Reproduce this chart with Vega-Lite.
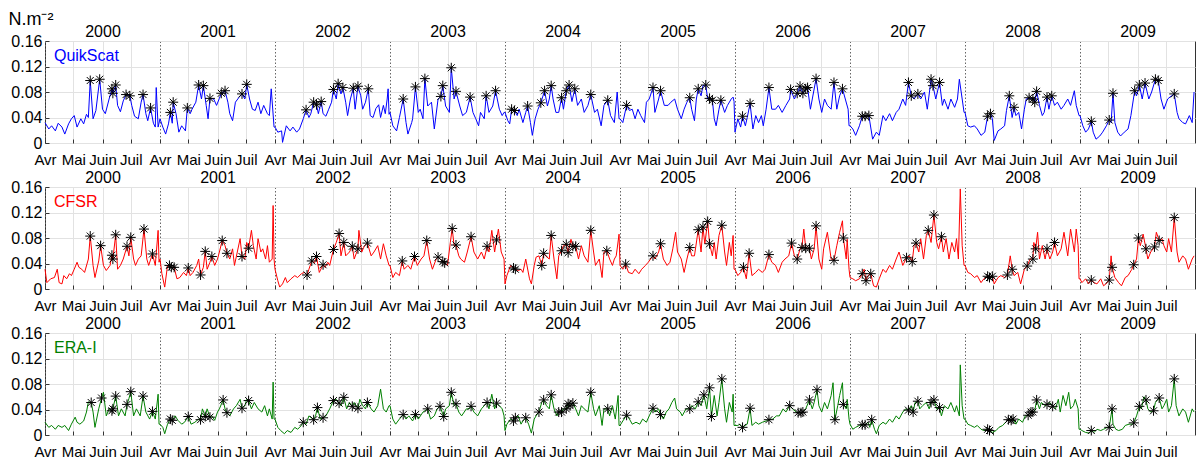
{
"$schema": "https://vega.github.io/schema/vega-lite/v6.json",
"background": "white",
"padding": {"left": 7, "top": 9, "right": 0, "bottom": 0},
"bounds": "flush",
"spacing": 44,
"datasets": {
"qs": [
{"t":0,"v":0.032},{"t":4,"v":0.022},{"t":7,"v":0.027},{"t":11,"v":0.019},{"t":14,"v":0.031},{"t":18,"v":0.025},{"t":21,"v":0.014},{"t":25,"v":0.030},{"t":28,"v":0.038},{"t":31,"v":0.043},{"t":34,"v":0.025},{"t":38,"v":0.038},{"t":41,"v":0.030},{"t":44,"v":0.045},{"t":46,"v":0.040},{"t":48,"v":0.098,"s":1},{"t":51,"v":0.038},{"t":54,"v":0.051},{"t":58,"v":0.100,"s":1},{"t":61,"v":0.053},{"t":64,"v":0.046},{"t":68,"v":0.069},{"t":71,"v":0.085,"s":1},{"t":72,"v":0.078,"s":1},{"t":75,"v":0.091,"s":1},{"t":77,"v":0.059},{"t":80,"v":0.049},{"t":83,"v":0.066},{"t":86,"v":0.076,"s":1},{"t":90,"v":0.074,"s":1},{"t":92,"v":0.059},{"t":95,"v":0.042},{"t":99,"v":0.038},{"t":102,"v":0.064},{"t":104,"v":0.076,"s":1},{"t":107,"v":0.046},{"t":109,"v":0.035},{"t":112,"v":0.055,"s":1},{"t":115,"v":0.031},{"t":117,"v":0.025},{"t":118,"v":0.087},{"t":120,"v":0.025},
{"t":122,"v":0.038},{"t":125,"v":0.025},{"t":128,"v":0.014},{"t":131,"v":0.030},{"t":133,"v":0.048,"s":1},{"t":135,"v":0.031},{"t":136,"v":0.064,"s":1},{"t":139,"v":0.046},{"t":142,"v":0.017},{"t":145,"v":0.027},{"t":149,"v":0.019},{"t":151,"v":0.055,"s":1},{"t":154,"v":0.046},{"t":156,"v":0.053},{"t":160,"v":0.064},{"t":163,"v":0.091,"s":1},{"t":166,"v":0.069},{"t":168,"v":0.090,"s":1},{"t":171,"v":0.059},{"t":173,"v":0.038},{"t":175,"v":0.070,"s":1},{"t":179,"v":0.069},{"t":182,"v":0.059},{"t":185,"v":0.070},{"t":187,"v":0.078,"s":1},{"t":191,"v":0.082,"s":1},{"t":194,"v":0.064},{"t":196,"v":0.046},{"t":199,"v":0.035},{"t":202,"v":0.064},{"t":206,"v":0.072},{"t":209,"v":0.077,"s":1},{"t":212,"v":0.069},{"t":214,"v":0.092,"s":1},{"t":217,"v":0.069},{"t":220,"v":0.053},{"t":223,"v":0.051},{"t":226,"v":0.064},{"t":229,"v":0.046},{"t":232,"v":0.059},{"t":236,"v":0.046},{"t":238,"v":0.043},{"t":240,"v":0.085},{"t":243,"v":0.025},
{"t":244,"v":0.025},{"t":247,"v":0.017},{"t":251,"v":0.019},{"t":252,"v":0.001},{"t":256,"v":0.027},{"t":260,"v":0.019},{"t":263,"v":0.025},{"t":267,"v":0.017},{"t":270,"v":0.022},{"t":274,"v":0.038},{"t":277,"v":0.052,"s":1},{"t":280,"v":0.040},{"t":282,"v":0.046},{"t":285,"v":0.064,"s":1},{"t":288,"v":0.060,"s":1},{"t":290,"v":0.046},{"t":293,"v":0.065,"s":1},{"t":295,"v":0.046},{"t":298,"v":0.042},{"t":301,"v":0.053},{"t":304,"v":0.064},{"t":306,"v":0.084,"s":1},{"t":309,"v":0.069},{"t":311,"v":0.093,"s":1},{"t":314,"v":0.077},{"t":316,"v":0.087,"s":1},{"t":319,"v":0.064},{"t":321,"v":0.043},{"t":324,"v":0.069},{"t":327,"v":0.086,"s":1},{"t":329,"v":0.053},{"t":332,"v":0.089,"s":1},{"t":335,"v":0.074},{"t":337,"v":0.053},{"t":340,"v":0.064},{"t":343,"v":0.085,"s":1},{"t":345,"v":0.043},{"t":348,"v":0.040},{"t":351,"v":0.054},{"t":354,"v":0.060},{"t":356,"v":0.040},{"t":359,"v":0.059},{"t":361,"v":0.046},{"t":363,"v":0.069},{"t":364,"v":0.085},{"t":365,"v":0.045},
{"t":366,"v":0.048},{"t":369,"v":0.027},{"t":373,"v":0.019},{"t":376,"v":0.040},{"t":380,"v":0.069,"s":1},{"t":383,"v":0.032},{"t":385,"v":0.014},{"t":389,"v":0.032},{"t":390,"v":0.038},{"t":393,"v":0.088,"s":1},{"t":396,"v":0.048},{"t":398,"v":0.053},{"t":401,"v":0.038},{"t":403,"v":0.101,"s":1},{"t":406,"v":0.058},{"t":410,"v":0.064},{"t":413,"v":0.022},{"t":417,"v":0.069},{"t":420,"v":0.073,"s":1},{"t":422,"v":0.090,"s":1},{"t":425,"v":0.058},{"t":429,"v":0.048},{"t":431,"v":0.118,"s":1},{"t":434,"v":0.069},{"t":436,"v":0.081,"s":1},{"t":440,"v":0.058},{"t":443,"v":0.043},{"t":447,"v":0.048},{"t":451,"v":0.072,"s":1},{"t":454,"v":0.048},{"t":457,"v":0.038},{"t":460,"v":0.027},{"t":462,"v":0.048},{"t":466,"v":0.038},{"t":468,"v":0.074,"s":1},{"t":471,"v":0.048},{"t":475,"v":0.058},{"t":478,"v":0.082,"s":1},{"t":482,"v":0.053},{"t":485,"v":0.043},{"t":487,"v":0.048},
{"t":488,"v":0.048},{"t":491,"v":0.035},{"t":493,"v":0.030},{"t":495,"v":0.053,"s":1},{"t":498,"v":0.051,"s":1},{"t":501,"v":0.043},{"t":503,"v":0.053},{"t":507,"v":0.032},{"t":510,"v":0.048},{"t":512,"v":0.058,"s":1},{"t":515,"v":0.032},{"t":517,"v":0.012},{"t":520,"v":0.038},{"t":523,"v":0.053},{"t":526,"v":0.063,"s":1},{"t":530,"v":0.082,"s":1},{"t":533,"v":0.058},{"t":535,"v":0.069},{"t":537,"v":0.090,"s":1},{"t":539,"v":0.069},{"t":542,"v":0.048},{"t":545,"v":0.048},{"t":548,"v":0.071,"s":1},{"t":550,"v":0.053},{"t":553,"v":0.082,"s":1},{"t":556,"v":0.091,"s":1},{"t":559,"v":0.065},{"t":562,"v":0.085,"s":1},{"t":565,"v":0.059},{"t":569,"v":0.069},{"t":572,"v":0.048},{"t":576,"v":0.059},{"t":579,"v":0.076,"s":1},{"t":583,"v":0.048},{"t":586,"v":0.053},{"t":590,"v":0.027},{"t":593,"v":0.059},{"t":597,"v":0.067,"s":1},{"t":600,"v":0.043},{"t":604,"v":0.032},{"t":607,"v":0.080},{"t":609,"v":0.038},
{"t":610,"v":0.038},{"t":613,"v":0.032},{"t":617,"v":0.059,"s":1},{"t":620,"v":0.051},{"t":623,"v":0.053},{"t":626,"v":0.038},{"t":629,"v":0.053},{"t":632,"v":0.043},{"t":636,"v":0.032},{"t":638,"v":0.064},{"t":641,"v":0.069},{"t":645,"v":0.087,"s":1},{"t":647,"v":0.048},{"t":651,"v":0.069},{"t":653,"v":0.082,"s":1},{"t":657,"v":0.059},{"t":661,"v":0.059},{"t":664,"v":0.064},{"t":668,"v":0.069},{"t":671,"v":0.053},{"t":675,"v":0.038},{"t":678,"v":0.053},{"t":681,"v":0.064},{"t":684,"v":0.071,"s":1},{"t":686,"v":0.053},{"t":689,"v":0.035},{"t":691,"v":0.069},{"t":693,"v":0.085,"s":1},{"t":696,"v":0.074},{"t":698,"v":0.090},{"t":701,"v":0.091,"s":1},{"t":703,"v":0.069},{"t":705,"v":0.070,"s":1},{"t":708,"v":0.067,"s":1},{"t":710,"v":0.038},{"t":712,"v":0.027},{"t":715,"v":0.053},{"t":717,"v":0.067,"s":1},{"t":721,"v":0.048},{"t":724,"v":0.059},{"t":728,"v":0.069},{"t":730,"v":0.072},{"t":731,"v":0.065},
{"t":732,"v":0.017},{"t":735,"v":0.038},{"t":738,"v":0.025},{"t":740,"v":0.042,"s":1},{"t":743,"v":0.027},{"t":745,"v":0.040},{"t":748,"v":0.062,"s":1},{"t":751,"v":0.022},{"t":754,"v":0.043},{"t":757,"v":0.032},{"t":760,"v":0.043},{"t":762,"v":0.027},{"t":765,"v":0.053},{"t":768,"v":0.087,"s":1},{"t":771,"v":0.053},{"t":775,"v":0.053},{"t":778,"v":0.059},{"t":782,"v":0.048},{"t":786,"v":0.059},{"t":790,"v":0.069},{"t":791,"v":0.084,"s":1},{"t":795,"v":0.069},{"t":798,"v":0.078,"s":1},{"t":801,"v":0.089,"s":1},{"t":804,"v":0.078,"s":1},{"t":807,"v":0.085,"s":1},{"t":809,"v":0.087,"s":1},{"t":812,"v":0.053},{"t":814,"v":0.069},{"t":818,"v":0.101,"s":1},{"t":821,"v":0.069},{"t":824,"v":0.048},{"t":827,"v":0.069},{"t":830,"v":0.059},{"t":834,"v":0.053},{"t":837,"v":0.095,"s":1},{"t":840,"v":0.053},{"t":843,"v":0.074},{"t":846,"v":0.085,"s":1},{"t":849,"v":0.069},{"t":852,"v":0.053},{"t":853,"v":0.027},
{"t":854,"v":0.027},{"t":857,"v":0.022},{"t":860,"v":0.012},{"t":864,"v":0.027},{"t":867,"v":0.042,"s":1},{"t":870,"v":0.042,"s":1},{"t":874,"v":0.043,"s":1},{"t":878,"v":0.006},{"t":882,"v":0.017},{"t":885,"v":0.012},{"t":889,"v":0.043},{"t":892,"v":0.035},{"t":896,"v":0.046},{"t":899,"v":0.035},{"t":903,"v":0.048},{"t":906,"v":0.053},{"t":910,"v":0.069},{"t":913,"v":0.059},{"t":916,"v":0.095,"s":1},{"t":919,"v":0.074,"s":1},{"t":922,"v":0.069},{"t":926,"v":0.077,"s":1},{"t":929,"v":0.069},{"t":933,"v":0.080},{"t":936,"v":0.053},{"t":940,"v":0.100,"s":1},{"t":942,"v":0.090,"s":1},{"t":945,"v":0.069},{"t":949,"v":0.095,"s":1},{"t":952,"v":0.059},{"t":954,"v":0.069},{"t":958,"v":0.053},{"t":961,"v":0.069},{"t":965,"v":0.056},{"t":968,"v":0.069},{"t":970,"v":0.100},{"t":973,"v":0.069},{"t":975,"v":0.048},
{"t":976,"v":0.048},{"t":979,"v":0.027},{"t":982,"v":0.025},{"t":986,"v":0.027},{"t":989,"v":0.022},{"t":993,"v":0.012},{"t":997,"v":0.017},{"t":1000,"v":0.042,"s":1},{"t":1003,"v":0.046,"s":1},{"t":1005,"v":0.038},{"t":1007,"v":0.004},{"t":1011,"v":0.019},{"t":1014,"v":0.022},{"t":1018,"v":0.027},{"t":1020,"v":0.051},{"t":1023,"v":0.074,"s":1},{"t":1026,"v":0.040},{"t":1028,"v":0.056,"s":1},{"t":1030,"v":0.043},{"t":1033,"v":0.048},{"t":1036,"v":0.022},{"t":1039,"v":0.053},{"t":1041,"v":0.069},{"t":1044,"v":0.071,"s":1},{"t":1048,"v":0.069,"s":1},{"t":1050,"v":0.064,"s":1},{"t":1052,"v":0.081,"s":1},{"t":1055,"v":0.059},{"t":1058,"v":0.043},{"t":1060,"v":0.048},{"t":1063,"v":0.072,"s":1},{"t":1065,"v":0.053},{"t":1068,"v":0.074,"s":1},{"t":1071,"v":0.059},{"t":1074,"v":0.064},{"t":1078,"v":0.053},{"t":1081,"v":0.059},{"t":1085,"v":0.069},{"t":1088,"v":0.059},{"t":1092,"v":0.082},{"t":1094,"v":0.059},{"t":1097,"v":0.043},
{"t":1098,"v":0.043},{"t":1101,"v":0.027},{"t":1104,"v":0.017},{"t":1107,"v":0.022},{"t":1110,"v":0.034,"s":1},{"t":1112,"v":0.017},{"t":1115,"v":0.006},{"t":1119,"v":0.011},{"t":1122,"v":0.017},{"t":1126,"v":0.027},{"t":1129,"v":0.036,"s":1},{"t":1131,"v":0.032},{"t":1133,"v":0.078,"s":1},{"t":1135,"v":0.032},{"t":1138,"v":0.017},{"t":1141,"v":0.011},{"t":1145,"v":0.017},{"t":1149,"v":0.022},{"t":1152,"v":0.043},{"t":1156,"v":0.082,"s":1},{"t":1158,"v":0.074},{"t":1161,"v":0.091,"s":1},{"t":1164,"v":0.069},{"t":1167,"v":0.094,"s":1},{"t":1171,"v":0.069},{"t":1174,"v":0.080},{"t":1178,"v":0.100,"s":1},{"t":1181,"v":0.098,"s":1},{"t":1184,"v":0.069},{"t":1187,"v":0.053},{"t":1191,"v":0.069},{"t":1195,"v":0.074},{"t":1198,"v":0.077,"s":1},{"t":1201,"v":0.048},{"t":1203,"v":0.038},{"t":1207,"v":0.032},{"t":1210,"v":0.030},{"t":1214,"v":0.043},{"t":1217,"v":0.032},{"t":1219,"v":0.080}
],
"cf": [
{"t":0,"v":0.031},{"t":2,"v":0.010},{"t":6,"v":0.016},{"t":10,"v":0.018},{"t":13,"v":0.031},{"t":15,"v":0.010},{"t":18,"v":0.008},{"t":20,"v":0.021},{"t":23,"v":0.016},{"t":26,"v":0.024},{"t":28,"v":0.021},{"t":31,"v":0.031},{"t":34,"v":0.042},{"t":36,"v":0.034},{"t":39,"v":0.031},{"t":42,"v":0.026},{"t":46,"v":0.047},{"t":48,"v":0.083,"s":1},{"t":51,"v":0.037},{"t":53,"v":0.018},{"t":57,"v":0.044},{"t":59,"v":0.068,"s":1},{"t":62,"v":0.037},{"t":65,"v":0.029},{"t":69,"v":0.037},{"t":71,"v":0.053,"s":1},{"t":72,"v":0.047,"s":1},{"t":75,"v":0.085,"s":1},{"t":77,"v":0.031},{"t":80,"v":0.037},{"t":83,"v":0.047},{"t":87,"v":0.067,"s":1},{"t":89,"v":0.052},{"t":91,"v":0.081,"s":1},{"t":94,"v":0.047},{"t":96,"v":0.037},{"t":99,"v":0.047},{"t":102,"v":0.052},{"t":105,"v":0.094,"s":1},{"t":108,"v":0.047},{"t":110,"v":0.037},{"t":114,"v":0.055,"s":1},{"t":117,"v":0.037},{"t":120,"v":0.092},{"t":121,"v":0.042},
{"t":122,"v":0.047},{"t":124,"v":0.024},{"t":127,"v":0.003},{"t":130,"v":0.037},{"t":132,"v":0.037,"s":1},{"t":134,"v":0.034,"s":1},{"t":137,"v":0.034,"s":1},{"t":140,"v":0.016},{"t":143,"v":0.018},{"t":147,"v":0.026},{"t":150,"v":0.021},{"t":152,"v":0.033,"s":1},{"t":154,"v":0.021},{"t":157,"v":0.026},{"t":161,"v":0.037},{"t":163,"v":0.047},{"t":165,"v":0.022,"s":1},{"t":168,"v":0.034},{"t":170,"v":0.059,"s":1},{"t":172,"v":0.031},{"t":175,"v":0.042},{"t":177,"v":0.051,"s":1},{"t":180,"v":0.037},{"t":183,"v":0.047},{"t":185,"v":0.058},{"t":188,"v":0.076,"s":1},{"t":191,"v":0.068},{"t":193,"v":0.056,"s":1},{"t":196,"v":0.047},{"t":199,"v":0.063},{"t":201,"v":0.037},{"t":204,"v":0.058},{"t":207,"v":0.079},{"t":209,"v":0.051,"s":1},{"t":212,"v":0.047},{"t":214,"v":0.073},{"t":216,"v":0.064,"s":1},{"t":219,"v":0.092},{"t":221,"v":0.068},{"t":224,"v":0.047},{"t":226,"v":0.079},{"t":229,"v":0.058},{"t":231,"v":0.063},{"t":234,"v":0.047},{"t":236,"v":0.068},{"t":238,"v":0.042},{"t":241,"v":0.047},{"t":242,"v":0.131},{"t":243,"v":0.047},
{"t":244,"v":0.031},{"t":247,"v":0.013},{"t":249,"v":0.003},{"t":252,"v":0.008},{"t":255,"v":0.018},{"t":257,"v":0.010},{"t":261,"v":0.016},{"t":265,"v":0.021},{"t":268,"v":0.018},{"t":272,"v":0.024},{"t":275,"v":0.026},{"t":278,"v":0.022,"s":1},{"t":280,"v":0.031},{"t":283,"v":0.044,"s":1},{"t":286,"v":0.041},{"t":288,"v":0.051,"s":1},{"t":291,"v":0.026},{"t":295,"v":0.038,"s":1},{"t":297,"v":0.034},{"t":300,"v":0.042},{"t":302,"v":0.037},{"t":306,"v":0.062,"s":1},{"t":309,"v":0.073},{"t":312,"v":0.087,"s":1},{"t":314,"v":0.052},{"t":317,"v":0.073,"s":1},{"t":319,"v":0.052},{"t":323,"v":0.058},{"t":326,"v":0.067,"s":1},{"t":328,"v":0.047},{"t":332,"v":0.063,"s":1},{"t":333,"v":0.092},{"t":336,"v":0.058},{"t":339,"v":0.068},{"t":342,"v":0.072,"s":1},{"t":346,"v":0.052},{"t":349,"v":0.058},{"t":353,"v":0.068},{"t":356,"v":0.047},{"t":359,"v":0.071},{"t":362,"v":0.052},{"t":365,"v":0.037},
{"t":366,"v":0.037},{"t":369,"v":0.018},{"t":372,"v":0.026},{"t":376,"v":0.021},{"t":379,"v":0.044,"s":1},{"t":381,"v":0.031},{"t":385,"v":0.037},{"t":388,"v":0.031},{"t":392,"v":0.051,"s":1},{"t":395,"v":0.037},{"t":399,"v":0.047},{"t":402,"v":0.052},{"t":405,"v":0.076,"s":1},{"t":408,"v":0.047},{"t":411,"v":0.031},{"t":415,"v":0.047},{"t":417,"v":0.050,"s":1},{"t":422,"v":0.043,"s":1},{"t":424,"v":0.041,"s":1},{"t":427,"v":0.037},{"t":430,"v":0.073},{"t":432,"v":0.095,"s":1},{"t":434,"v":0.068},{"t":436,"v":0.069,"s":1},{"t":439,"v":0.052},{"t":441,"v":0.047},{"t":445,"v":0.042},{"t":448,"v":0.058},{"t":452,"v":0.082,"s":1},{"t":455,"v":0.058},{"t":459,"v":0.047},{"t":463,"v":0.058},{"t":466,"v":0.047},{"t":469,"v":0.067,"s":1},{"t":471,"v":0.058},{"t":474,"v":0.092},{"t":477,"v":0.058},{"t":479,"v":0.077,"s":1},{"t":481,"v":0.094},{"t":484,"v":0.058},{"t":487,"v":0.047},
{"t":488,"v":0.008},{"t":490,"v":0.021},{"t":494,"v":0.037},{"t":497,"v":0.033,"s":1},{"t":499,"v":0.031,"s":1},{"t":502,"v":0.029},{"t":505,"v":0.031},{"t":507,"v":0.026},{"t":510,"v":0.047},{"t":514,"v":0.016},{"t":516,"v":0.008},{"t":519,"v":0.037},{"t":521,"v":0.050},{"t":524,"v":0.052},{"t":527,"v":0.037,"s":1},{"t":529,"v":0.056,"s":1},{"t":531,"v":0.052},{"t":535,"v":0.047},{"t":537,"v":0.084,"s":1},{"t":540,"v":0.047},{"t":543,"v":0.016},{"t":545,"v":0.052},{"t":548,"v":0.060,"s":1},{"t":550,"v":0.068},{"t":553,"v":0.070,"s":1},{"t":555,"v":0.057,"s":1},{"t":558,"v":0.078},{"t":560,"v":0.067,"s":1},{"t":563,"v":0.067,"s":1},{"t":566,"v":0.047},{"t":569,"v":0.068},{"t":572,"v":0.052},{"t":576,"v":0.042},{"t":579,"v":0.092,"s":1},{"t":582,"v":0.058},{"t":584,"v":0.037},{"t":588,"v":0.047},{"t":591,"v":0.018},{"t":593,"v":0.058},{"t":596,"v":0.060,"s":1},{"t":599,"v":0.047},{"t":602,"v":0.037},{"t":604,"v":0.047},{"t":606,"v":0.052},{"t":609,"v":0.086},
{"t":610,"v":0.037},{"t":613,"v":0.031},{"t":616,"v":0.039,"s":1},{"t":619,"v":0.026},{"t":623,"v":0.024},{"t":626,"v":0.031},{"t":630,"v":0.024},{"t":633,"v":0.031},{"t":637,"v":0.037},{"t":640,"v":0.042},{"t":645,"v":0.052,"s":1},{"t":647,"v":0.047},{"t":651,"v":0.058},{"t":653,"v":0.071,"s":1},{"t":656,"v":0.047},{"t":660,"v":0.037},{"t":663,"v":0.042},{"t":666,"v":0.063},{"t":669,"v":0.089},{"t":671,"v":0.058},{"t":675,"v":0.047},{"t":678,"v":0.026},{"t":681,"v":0.047},{"t":684,"v":0.065,"s":1},{"t":686,"v":0.052},{"t":689,"v":0.052},{"t":693,"v":0.093,"s":1},{"t":696,"v":0.058},{"t":698,"v":0.097,"s":1},{"t":700,"v":0.071},{"t":703,"v":0.106,"s":1},{"t":705,"v":0.071,"s":1},{"t":708,"v":0.052},{"t":710,"v":0.073},{"t":712,"v":0.047},{"t":715,"v":0.084},{"t":718,"v":0.100,"s":1},{"t":721,"v":0.058},{"t":723,"v":0.037},{"t":726,"v":0.073},{"t":728,"v":0.052},{"t":730,"v":0.084},{"t":731,"v":0.031},
{"t":732,"v":0.031},{"t":735,"v":0.021},{"t":738,"v":0.026},{"t":741,"v":0.034,"s":1},{"t":744,"v":0.016},{"t":747,"v":0.056,"s":1},{"t":750,"v":0.021},{"t":754,"v":0.026},{"t":757,"v":0.031},{"t":761,"v":0.026},{"t":764,"v":0.031},{"t":768,"v":0.054,"s":1},{"t":771,"v":0.042},{"t":775,"v":0.037},{"t":778,"v":0.026},{"t":782,"v":0.042},{"t":785,"v":0.047},{"t":789,"v":0.052},{"t":792,"v":0.072,"s":1},{"t":795,"v":0.052},{"t":798,"v":0.047,"s":1},{"t":801,"v":0.063},{"t":803,"v":0.065,"s":1},{"t":805,"v":0.094},{"t":807,"v":0.064,"s":1},{"t":811,"v":0.064,"s":1},{"t":813,"v":0.047},{"t":816,"v":0.063},{"t":818,"v":0.099,"s":1},{"t":821,"v":0.047},{"t":824,"v":0.031},{"t":826,"v":0.063},{"t":830,"v":0.089},{"t":834,"v":0.047},{"t":837,"v":0.045,"s":1},{"t":840,"v":0.068},{"t":843,"v":0.089},{"t":846,"v":0.107},{"t":847,"v":0.080,"s":1},{"t":850,"v":0.047},{"t":851,"v":0.078},{"t":853,"v":0.031},
{"t":854,"v":0.018},{"t":857,"v":0.016},{"t":860,"v":0.013},{"t":864,"v":0.016},{"t":867,"v":0.024,"s":1},{"t":869,"v":0.031},{"t":871,"v":0.013,"s":1},{"t":873,"v":0.021},{"t":876,"v":0.024,"s":1},{"t":879,"v":0.005},{"t":882,"v":0.003},{"t":885,"v":0.016},{"t":889,"v":0.031},{"t":892,"v":0.026},{"t":896,"v":0.037},{"t":899,"v":0.031},{"t":903,"v":0.047},{"t":906,"v":0.058},{"t":910,"v":0.037},{"t":914,"v":0.049,"s":1},{"t":917,"v":0.052},{"t":920,"v":0.043,"s":1},{"t":922,"v":0.068},{"t":924,"v":0.072,"s":1},{"t":927,"v":0.058},{"t":929,"v":0.079},{"t":932,"v":0.047},{"t":935,"v":0.084},{"t":937,"v":0.092,"s":1},{"t":940,"v":0.073},{"t":943,"v":0.116,"s":1},{"t":946,"v":0.073},{"t":948,"v":0.063},{"t":951,"v":0.082,"s":1},{"t":953,"v":0.058},{"t":956,"v":0.079},{"t":959,"v":0.047},{"t":962,"v":0.073},{"t":965,"v":0.058},{"t":967,"v":0.079},{"t":969,"v":0.047},{"t":971,"v":0.157},{"t":973,"v":0.068},{"t":975,"v":0.037},
{"t":976,"v":0.037},{"t":979,"v":0.026},{"t":982,"v":0.024},{"t":986,"v":0.018},{"t":989,"v":0.021},{"t":993,"v":0.010},{"t":996,"v":0.016},{"t":1000,"v":0.020,"s":1},{"t":1002,"v":0.018,"s":1},{"t":1005,"v":0.020,"s":1},{"t":1007,"v":0.008},{"t":1011,"v":0.018},{"t":1014,"v":0.021},{"t":1018,"v":0.018},{"t":1021,"v":0.022,"s":1},{"t":1024,"v":0.052},{"t":1026,"v":0.031,"s":1},{"t":1028,"v":0.021},{"t":1032,"v":0.026},{"t":1035,"v":0.008},{"t":1039,"v":0.031},{"t":1042,"v":0.036,"s":1},{"t":1045,"v":0.047},{"t":1048,"v":0.047,"s":1},{"t":1049,"v":0.073},{"t":1051,"v":0.063,"s":1},{"t":1053,"v":0.089},{"t":1055,"v":0.047},{"t":1058,"v":0.068},{"t":1061,"v":0.047},{"t":1063,"v":0.063,"s":1},{"t":1066,"v":0.047},{"t":1069,"v":0.058},{"t":1071,"v":0.073,"s":1},{"t":1074,"v":0.052},{"t":1078,"v":0.063},{"t":1081,"v":0.089},{"t":1085,"v":0.052},{"t":1088,"v":0.094},{"t":1092,"v":0.058},{"t":1094,"v":0.094},{"t":1096,"v":0.068},{"t":1097,"v":0.016},
{"t":1098,"v":0.016},{"t":1100,"v":0.010},{"t":1104,"v":0.016},{"t":1107,"v":0.008},{"t":1110,"v":0.014,"s":1},{"t":1113,"v":0.010},{"t":1116,"v":0.008},{"t":1120,"v":0.016},{"t":1123,"v":0.005},{"t":1127,"v":0.010},{"t":1129,"v":0.014,"s":1},{"t":1131,"v":0.052},{"t":1132,"v":0.034,"s":1},{"t":1135,"v":0.018},{"t":1139,"v":0.010},{"t":1142,"v":0.005},{"t":1146,"v":0.018},{"t":1149,"v":0.021},{"t":1153,"v":0.031},{"t":1155,"v":0.038,"s":1},{"t":1158,"v":0.047},{"t":1160,"v":0.080,"s":1},{"t":1162,"v":0.068},{"t":1165,"v":0.086},{"t":1168,"v":0.063,"s":1},{"t":1170,"v":0.047},{"t":1173,"v":0.058},{"t":1177,"v":0.066,"s":1},{"t":1179,"v":0.089},{"t":1182,"v":0.076,"s":1},{"t":1185,"v":0.079},{"t":1187,"v":0.068},{"t":1190,"v":0.058},{"t":1192,"v":0.079},{"t":1195,"v":0.058},{"t":1198,"v":0.112,"s":1},{"t":1201,"v":0.058},{"t":1203,"v":0.042},{"t":1207,"v":0.052},{"t":1210,"v":0.047},{"t":1213,"v":0.031},{"t":1217,"v":0.047},{"t":1219,"v":0.052}
],
"er": [
{"t":0,"v":0.020},{"t":4,"v":0.012},{"t":7,"v":0.015},{"t":11,"v":0.009},{"t":14,"v":0.015},{"t":18,"v":0.012},{"t":21,"v":0.015},{"t":25,"v":0.007},{"t":28,"v":0.017},{"t":32,"v":0.028},{"t":34,"v":0.020},{"t":37,"v":0.017},{"t":41,"v":0.022},{"t":44,"v":0.036},{"t":46,"v":0.052},{"t":49,"v":0.051,"s":1},{"t":51,"v":0.036},{"t":53,"v":0.012},{"t":57,"v":0.041},{"t":60,"v":0.058,"s":1},{"t":62,"v":0.067},{"t":65,"v":0.030},{"t":68,"v":0.041},{"t":71,"v":0.038,"s":1},{"t":72,"v":0.041,"s":1},{"t":75,"v":0.061,"s":1},{"t":78,"v":0.030},{"t":81,"v":0.041},{"t":85,"v":0.030},{"t":87,"v":0.048,"s":1},{"t":89,"v":0.057},{"t":91,"v":0.068,"s":1},{"t":94,"v":0.030},{"t":97,"v":0.041},{"t":101,"v":0.030},{"t":104,"v":0.061,"s":1},{"t":107,"v":0.036},{"t":111,"v":0.025},{"t":114,"v":0.037,"s":1},{"t":117,"v":0.025},{"t":120,"v":0.064},{"t":121,"v":0.017},
{"t":122,"v":0.017},{"t":125,"v":0.012},{"t":127,"v":0.002},{"t":130,"v":0.017},{"t":133,"v":0.025,"s":1},{"t":135,"v":0.023,"s":1},{"t":138,"v":0.030},{"t":141,"v":0.023},{"t":145,"v":0.017},{"t":148,"v":0.020},{"t":152,"v":0.029,"s":1},{"t":155,"v":0.017},{"t":159,"v":0.020},{"t":163,"v":0.025},{"t":165,"v":0.024,"s":1},{"t":167,"v":0.041},{"t":170,"v":0.029,"s":1},{"t":172,"v":0.041},{"t":175,"v":0.028,"s":1},{"t":177,"v":0.030},{"t":180,"v":0.023},{"t":183,"v":0.036},{"t":185,"v":0.041},{"t":189,"v":0.055,"s":1},{"t":191,"v":0.041},{"t":193,"v":0.035,"s":1},{"t":196,"v":0.030},{"t":200,"v":0.041},{"t":203,"v":0.046},{"t":207,"v":0.056},{"t":209,"v":0.042,"s":1},{"t":212,"v":0.046},{"t":214,"v":0.056},{"t":216,"v":0.054,"s":1},{"t":219,"v":0.041},{"t":222,"v":0.051},{"t":226,"v":0.041},{"t":230,"v":0.036},{"t":233,"v":0.046},{"t":236,"v":0.030},{"t":238,"v":0.041},{"t":241,"v":0.025},{"t":242,"v":0.083},{"t":243,"v":0.025},
{"t":244,"v":0.025},{"t":247,"v":0.012},{"t":250,"v":0.007},{"t":254,"v":0.002},{"t":257,"v":0.007},{"t":261,"v":0.004},{"t":265,"v":0.012},{"t":268,"v":0.009},{"t":272,"v":0.015},{"t":274,"v":0.020,"s":1},{"t":277,"v":0.017},{"t":280,"v":0.030},{"t":285,"v":0.024,"s":1},{"t":287,"v":0.030},{"t":289,"v":0.043,"s":1},{"t":292,"v":0.025},{"t":295,"v":0.027,"s":1},{"t":298,"v":0.030},{"t":302,"v":0.041},{"t":306,"v":0.054,"s":1},{"t":309,"v":0.056},{"t":312,"v":0.050,"s":1},{"t":314,"v":0.046},{"t":317,"v":0.059,"s":1},{"t":320,"v":0.041},{"t":323,"v":0.051},{"t":326,"v":0.045,"s":1},{"t":328,"v":0.051},{"t":332,"v":0.042,"s":1},{"t":334,"v":0.056},{"t":337,"v":0.046},{"t":340,"v":0.041},{"t":342,"v":0.051,"s":1},{"t":346,"v":0.041},{"t":349,"v":0.036},{"t":353,"v":0.046},{"t":356,"v":0.072},{"t":359,"v":0.041},{"t":362,"v":0.036},{"t":365,"v":0.046},
{"t":366,"v":0.046},{"t":369,"v":0.025},{"t":372,"v":0.017},{"t":376,"v":0.025},{"t":380,"v":0.032,"s":1},{"t":383,"v":0.025},{"t":386,"v":0.030},{"t":390,"v":0.022},{"t":393,"v":0.032,"s":1},{"t":396,"v":0.025},{"t":401,"v":0.036},{"t":406,"v":0.041,"s":1},{"t":409,"v":0.025},{"t":413,"v":0.030},{"t":416,"v":0.041},{"t":419,"v":0.045,"s":1},{"t":423,"v":0.029,"s":1},{"t":425,"v":0.041},{"t":429,"v":0.046},{"t":431,"v":0.067,"s":1},{"t":434,"v":0.046},{"t":436,"v":0.049,"s":1},{"t":439,"v":0.036},{"t":442,"v":0.030},{"t":447,"v":0.041},{"t":450,"v":0.041},{"t":452,"v":0.045,"s":1},{"t":455,"v":0.036},{"t":459,"v":0.030},{"t":463,"v":0.041},{"t":466,"v":0.046},{"t":469,"v":0.051,"s":1},{"t":471,"v":0.041},{"t":474,"v":0.064},{"t":477,"v":0.041},{"t":479,"v":0.050,"s":1},{"t":482,"v":0.046},{"t":485,"v":0.041},{"t":487,"v":0.030},
{"t":488,"v":0.007},{"t":490,"v":0.017},{"t":494,"v":0.025},{"t":497,"v":0.022,"s":1},{"t":499,"v":0.027,"s":1},{"t":502,"v":0.030},{"t":505,"v":0.017},{"t":507,"v":0.022},{"t":510,"v":0.027,"s":1},{"t":513,"v":0.017},{"t":516,"v":0.003},{"t":519,"v":0.025},{"t":521,"v":0.030},{"t":524,"v":0.036,"s":1},{"t":527,"v":0.051},{"t":529,"v":0.055,"s":1},{"t":532,"v":0.046},{"t":535,"v":0.041},{"t":537,"v":0.063,"s":1},{"t":540,"v":0.041},{"t":543,"v":0.030},{"t":545,"v":0.036,"s":1},{"t":548,"v":0.036,"s":1},{"t":550,"v":0.041},{"t":553,"v":0.041,"s":1},{"t":555,"v":0.049,"s":1},{"t":557,"v":0.046,"s":1},{"t":560,"v":0.050,"s":1},{"t":563,"v":0.041},{"t":566,"v":0.030},{"t":569,"v":0.046},{"t":572,"v":0.041},{"t":576,"v":0.036},{"t":579,"v":0.067,"s":1},{"t":582,"v":0.041},{"t":584,"v":0.030},{"t":588,"v":0.046},{"t":591,"v":0.015},{"t":593,"v":0.041},{"t":597,"v":0.041,"s":1},{"t":599,"v":0.030},{"t":602,"v":0.046},{"t":605,"v":0.025},{"t":608,"v":0.062},{"t":609,"v":0.015},
{"t":610,"v":0.015},{"t":613,"v":0.022},{"t":617,"v":0.031,"s":1},{"t":620,"v":0.025},{"t":623,"v":0.017},{"t":627,"v":0.020},{"t":631,"v":0.017},{"t":634,"v":0.025},{"t":638,"v":0.020},{"t":641,"v":0.030},{"t":645,"v":0.042,"s":1},{"t":647,"v":0.036},{"t":651,"v":0.041},{"t":653,"v":0.032,"s":1},{"t":656,"v":0.025},{"t":659,"v":0.036},{"t":662,"v":0.041},{"t":665,"v":0.051},{"t":668,"v":0.058},{"t":670,"v":0.041},{"t":674,"v":0.036},{"t":676,"v":0.030},{"t":680,"v":0.041},{"t":684,"v":0.041,"s":1},{"t":686,"v":0.046},{"t":690,"v":0.041},{"t":693,"v":0.052,"s":1},{"t":696,"v":0.046},{"t":699,"v":0.063,"s":1},{"t":702,"v":0.041},{"t":705,"v":0.074,"s":1},{"t":707,"v":0.029,"s":1},{"t":710,"v":0.062},{"t":713,"v":0.030},{"t":715,"v":0.051},{"t":718,"v":0.088,"s":1},{"t":721,"v":0.041},{"t":723,"v":0.020},{"t":726,"v":0.051},{"t":729,"v":0.036},{"t":730,"v":0.064},{"t":731,"v":0.015},
{"t":732,"v":0.015},{"t":735,"v":0.015},{"t":737,"v":0.017},{"t":740,"v":0.012,"s":1},{"t":743,"v":0.015},{"t":745,"v":0.017},{"t":748,"v":0.042,"s":1},{"t":750,"v":0.015},{"t":754,"v":0.020},{"t":757,"v":0.017},{"t":761,"v":0.020},{"t":765,"v":0.022},{"t":768,"v":0.024,"s":1},{"t":772,"v":0.025},{"t":776,"v":0.030},{"t":779,"v":0.030},{"t":783,"v":0.041},{"t":786,"v":0.036},{"t":790,"v":0.046,"s":1},{"t":793,"v":0.041},{"t":797,"v":0.036},{"t":799,"v":0.035,"s":1},{"t":802,"v":0.035,"s":1},{"t":804,"v":0.036,"s":1},{"t":807,"v":0.041},{"t":811,"v":0.055,"s":1},{"t":814,"v":0.041},{"t":816,"v":0.051},{"t":819,"v":0.071,"s":1},{"t":821,"v":0.046},{"t":824,"v":0.036},{"t":827,"v":0.051},{"t":830,"v":0.041},{"t":834,"v":0.062},{"t":836,"v":0.082},{"t":838,"v":0.024,"s":1},{"t":841,"v":0.046},{"t":843,"v":0.062},{"t":846,"v":0.082},{"t":847,"v":0.048,"s":1},{"t":850,"v":0.041},{"t":851,"v":0.056},{"t":853,"v":0.025},
{"t":854,"v":0.017},{"t":857,"v":0.009},{"t":860,"v":0.012},{"t":864,"v":0.015},{"t":867,"v":0.016,"s":1},{"t":870,"v":0.016,"s":1},{"t":873,"v":0.020},{"t":875,"v":0.012},{"t":877,"v":0.024,"s":1},{"t":880,"v":0.009},{"t":882,"v":0.002},{"t":885,"v":0.015},{"t":889,"v":0.020},{"t":892,"v":0.017},{"t":896,"v":0.025},{"t":899,"v":0.020},{"t":903,"v":0.030},{"t":906,"v":0.025},{"t":910,"v":0.036},{"t":913,"v":0.041},{"t":916,"v":0.039,"s":1},{"t":919,"v":0.046},{"t":921,"v":0.036,"s":1},{"t":923,"v":0.051},{"t":926,"v":0.053,"s":1},{"t":928,"v":0.041},{"t":931,"v":0.046},{"t":935,"v":0.051},{"t":938,"v":0.041},{"t":940,"v":0.051,"s":1},{"t":943,"v":0.055,"s":1},{"t":946,"v":0.041},{"t":949,"v":0.043,"s":1},{"t":951,"v":0.030},{"t":954,"v":0.046},{"t":958,"v":0.041},{"t":961,"v":0.051},{"t":965,"v":0.036},{"t":967,"v":0.046},{"t":970,"v":0.030},{"t":971,"v":0.110},{"t":973,"v":0.046},{"t":975,"v":0.025},
{"t":976,"v":0.025},{"t":979,"v":0.017},{"t":982,"v":0.015},{"t":986,"v":0.012},{"t":989,"v":0.015},{"t":993,"v":0.009},{"t":996,"v":0.007},{"t":1000,"v":0.009,"s":1},{"t":1002,"v":0.007,"s":1},{"t":1005,"v":0.004},{"t":1009,"v":0.007},{"t":1012,"v":0.012},{"t":1016,"v":0.015},{"t":1019,"v":0.020},{"t":1022,"v":0.024,"s":1},{"t":1025,"v":0.023,"s":1},{"t":1027,"v":0.025,"s":1},{"t":1030,"v":0.017},{"t":1033,"v":0.025},{"t":1037,"v":0.020},{"t":1040,"v":0.030},{"t":1043,"v":0.031,"s":1},{"t":1046,"v":0.036,"s":1},{"t":1048,"v":0.036,"s":1},{"t":1050,"v":0.038},{"t":1052,"v":0.055,"s":1},{"t":1055,"v":0.041},{"t":1057,"v":0.051},{"t":1061,"v":0.046},{"t":1063,"v":0.048,"s":1},{"t":1066,"v":0.051},{"t":1069,"v":0.045,"s":1},{"t":1072,"v":0.041},{"t":1075,"v":0.056},{"t":1077,"v":0.036},{"t":1080,"v":0.062},{"t":1083,"v":0.046},{"t":1086,"v":0.067},{"t":1088,"v":0.041},{"t":1091,"v":0.046},{"t":1093,"v":0.056},{"t":1096,"v":0.041},{"t":1097,"v":0.009},
{"t":1098,"v":0.009},{"t":1100,"v":0.007},{"t":1104,"v":0.004},{"t":1108,"v":0.003},{"t":1110,"v":0.007,"s":1},{"t":1113,"v":0.004},{"t":1116,"v":0.009},{"t":1120,"v":0.007},{"t":1123,"v":0.009},{"t":1127,"v":0.012},{"t":1129,"v":0.012,"s":1},{"t":1132,"v":0.041,"s":1},{"t":1133,"v":0.017},{"t":1136,"v":0.009},{"t":1139,"v":0.007},{"t":1143,"v":0.009},{"t":1146,"v":0.015},{"t":1150,"v":0.017},{"t":1154,"v":0.017},{"t":1155,"v":0.019,"s":1},{"t":1158,"v":0.030},{"t":1161,"v":0.045,"s":1},{"t":1163,"v":0.041},{"t":1166,"v":0.060},{"t":1168,"v":0.055,"s":1},{"t":1170,"v":0.041},{"t":1173,"v":0.036},{"t":1176,"v":0.038,"s":1},{"t":1178,"v":0.051},{"t":1182,"v":0.058,"s":1},{"t":1185,"v":0.041},{"t":1187,"v":0.046},{"t":1190,"v":0.056},{"t":1192,"v":0.036},{"t":1195,"v":0.046},{"t":1198,"v":0.088,"s":1},{"t":1200,"v":0.046},{"t":1203,"v":0.030},{"t":1207,"v":0.041},{"t":1210,"v":0.036},{"t":1213,"v":0.020},{"t":1217,"v":0.041},{"t":1219,"v":0.036}
]
},
"vconcat": [
{
"width": 1150, "height": 102,
"data": {"name": "qs"},
"encoding": {
  "y": {"field": "v", "type": "quantitative", "scale": {"domain": [0, 0.16], "nice": false},
   "axis": {"values": [0, 0.04, 0.08, 0.12, 0.16], "labelExpr": "datum.value === 0 ? '0' : format(datum.value, '.2f')", "grid": true, "gridColor": "#e2e2e2", "ticks": true, "tickSize": -4, "labelPadding": 7, "labelFontSize": 16,
    "title": "N.m⁻²", "titleAngle": 0, "titleAlign": "left", "titleBaseline": "alphabetic", "titleX": -37, "titleY": -17, "titleFontSize": 18, "titleFontWeight": "normal"}}
},
"layer": [
{"mark": {"type": "line", "color": "#0000ff", "strokeWidth": 1},
 "encoding": {
  "x": {"field": "t", "type": "quantitative", "scale": {"domain": [0, 1220], "nice": false, "zero": false},
   "axis": {"orient": "bottom", "title": null, "values": [0,30,61,91,122,152,183,213,244,274,305,335,366,396,427,457,488,518,549,579,610,640,671,701,732,762,793,823,854,884,915,945,976,1006,1037,1067,1098,1128,1159,1189],
    "labelExpr": "datum.value % 122 === 0 ? 'Avr' : datum.value % 122 === 30 ? 'Mai' : datum.value % 122 === 61 ? 'Juin' : 'Juil'",
    "grid": true, "gridColor": {"condition": {"test": "datum.value % 122 === 0", "value": "#666666"}, "value": "#e2e2e2"},
    "gridDash": {"condition": {"test": "datum.value % 122 === 0", "value": [1.5, 2]}, "value": []},
    "ticks": true, "tickSize": -4, "labelPadding": 13, "labelOverlap": false, "labelFlush": false, "labelBound": false}}
 }},
{"transform": [{"filter": "datum.s === 1"}],
 "mark": {"type": "point", "shape": "M-1,0L1,0M0,-1L0,1M-0.7,-0.7L0.7,0.7M-0.7,0.7L0.7,-0.7", "size": 100, "filled": false, "color": "#000000", "strokeWidth": 1, "opacity": 1},
 "encoding": {
  "x": {"field": "t", "type": "quantitative", "scale": {"domain": [0, 1220], "nice": false, "zero": false},
   "axis": {"orient": "top", "title": null, "values": [61,183,305,427,549,671,793,915,1037,1159], "labelExpr": "'' + (2000 + floor(datum.value / 122))", "ticks": false, "grid": false, "labelPadding": 2, "labelFontSize": 16, "labelOverlap": false}}
 }},
{"data": {"values": [{"name": "QuikScat", "v": 0.137}]},
 "mark": {"type": "text", "align": "left", "baseline": "middle", "fontSize": 16, "color": "#0000ff"},
 "encoding": {
  "x": {"datum": 9.5, "type": "quantitative", "scale": {"domain": [0, 1220], "nice": false, "zero": false}, "axis": null},
  "text": {"field": "name"}
 }}
],
"resolve": {"scale": {"x": "independent"}, "axis": {"x": "independent"}}
},
{
"width": 1150, "height": 102,
"data": {"name": "cf"},
"encoding": {
  "y": {"field": "v", "type": "quantitative", "scale": {"domain": [0, 0.16], "nice": false},
   "axis": {"values": [0, 0.04, 0.08, 0.12, 0.16], "labelExpr": "datum.value === 0 ? '0' : format(datum.value, '.2f')", "grid": true, "gridColor": "#e2e2e2", "ticks": true, "tickSize": -4, "labelPadding": 7, "labelFontSize": 16, "title": null}}
},
"layer": [
{"mark": {"type": "line", "color": "#ff0000", "strokeWidth": 1},
 "encoding": {
  "x": {"field": "t", "type": "quantitative", "scale": {"domain": [0, 1220], "nice": false, "zero": false},
   "axis": {"orient": "bottom", "title": null, "values": [0,30,61,91,122,152,183,213,244,274,305,335,366,396,427,457,488,518,549,579,610,640,671,701,732,762,793,823,854,884,915,945,976,1006,1037,1067,1098,1128,1159,1189],
    "labelExpr": "datum.value % 122 === 0 ? 'Avr' : datum.value % 122 === 30 ? 'Mai' : datum.value % 122 === 61 ? 'Juin' : 'Juil'",
    "grid": true, "gridColor": {"condition": {"test": "datum.value % 122 === 0", "value": "#666666"}, "value": "#e2e2e2"},
    "gridDash": {"condition": {"test": "datum.value % 122 === 0", "value": [1.5, 2]}, "value": []},
    "ticks": true, "tickSize": -4, "labelPadding": 13, "labelOverlap": false, "labelFlush": false, "labelBound": false}}
 }},
{"transform": [{"filter": "datum.s === 1"}],
 "mark": {"type": "point", "shape": "M-1,0L1,0M0,-1L0,1M-0.7,-0.7L0.7,0.7M-0.7,0.7L0.7,-0.7", "size": 100, "filled": false, "color": "#000000", "strokeWidth": 1, "opacity": 1},
 "encoding": {
  "x": {"field": "t", "type": "quantitative", "scale": {"domain": [0, 1220], "nice": false, "zero": false},
   "axis": {"orient": "top", "title": null, "values": [61,183,305,427,549,671,793,915,1037,1159], "labelExpr": "'' + (2000 + floor(datum.value / 122))", "ticks": false, "grid": false, "labelPadding": 2, "labelFontSize": 16, "labelOverlap": false}}
 }},
{"data": {"values": [{"name": "CFSR", "v": 0.137}]},
 "mark": {"type": "text", "align": "left", "baseline": "middle", "fontSize": 16, "color": "#ff0000"},
 "encoding": {
  "x": {"datum": 9.5, "type": "quantitative", "scale": {"domain": [0, 1220], "nice": false, "zero": false}, "axis": null},
  "text": {"field": "name"}
 }}
],
"resolve": {"scale": {"x": "independent"}, "axis": {"x": "independent"}}
},
{
"width": 1150, "height": 102,
"data": {"name": "er"},
"encoding": {
  "y": {"field": "v", "type": "quantitative", "scale": {"domain": [0, 0.16], "nice": false},
   "axis": {"values": [0, 0.04, 0.08, 0.12, 0.16], "labelExpr": "datum.value === 0 ? '0' : format(datum.value, '.2f')", "grid": true, "gridColor": "#e2e2e2", "ticks": true, "tickSize": -4, "labelPadding": 7, "labelFontSize": 16, "title": null}}
},
"layer": [
{"mark": {"type": "line", "color": "#008000", "strokeWidth": 1},
 "encoding": {
  "x": {"field": "t", "type": "quantitative", "scale": {"domain": [0, 1220], "nice": false, "zero": false},
   "axis": {"orient": "bottom", "title": null, "values": [0,30,61,91,122,152,183,213,244,274,305,335,366,396,427,457,488,518,549,579,610,640,671,701,732,762,793,823,854,884,915,945,976,1006,1037,1067,1098,1128,1159,1189],
    "labelExpr": "datum.value % 122 === 0 ? 'Avr' : datum.value % 122 === 30 ? 'Mai' : datum.value % 122 === 61 ? 'Juin' : 'Juil'",
    "grid": true, "gridColor": {"condition": {"test": "datum.value % 122 === 0", "value": "#666666"}, "value": "#e2e2e2"},
    "gridDash": {"condition": {"test": "datum.value % 122 === 0", "value": [1.5, 2]}, "value": []},
    "ticks": true, "tickSize": -4, "labelPadding": 13, "labelOverlap": false, "labelFlush": false, "labelBound": false}}
 }},
{"transform": [{"filter": "datum.s === 1"}],
 "mark": {"type": "point", "shape": "M-1,0L1,0M0,-1L0,1M-0.7,-0.7L0.7,0.7M-0.7,0.7L0.7,-0.7", "size": 100, "filled": false, "color": "#000000", "strokeWidth": 1, "opacity": 1},
 "encoding": {
  "x": {"field": "t", "type": "quantitative", "scale": {"domain": [0, 1220], "nice": false, "zero": false},
   "axis": {"orient": "top", "title": null, "values": [61,183,305,427,549,671,793,915,1037,1159], "labelExpr": "'' + (2000 + floor(datum.value / 122))", "ticks": false, "grid": false, "labelPadding": 2, "labelFontSize": 16, "labelOverlap": false}}
 }},
{"data": {"values": [{"name": "ERA-I", "v": 0.137}]},
 "mark": {"type": "text", "align": "left", "baseline": "middle", "fontSize": 16, "color": "#008000"},
 "encoding": {
  "x": {"datum": 9.5, "type": "quantitative", "scale": {"domain": [0, 1220], "nice": false, "zero": false}, "axis": null},
  "text": {"field": "name"}
 }}
],
"resolve": {"scale": {"x": "independent"}, "axis": {"x": "independent"}}
}
],
"config": {
 "font": "Liberation Sans",
 "view": {"stroke": "#333333", "strokeWidth": 1},
 "axis": {"domain": false, "labelFont": "Liberation Sans", "labelColor": "#000000", "labelFontSize": 15, "tickColor": "#333333", "tickWidth": 1, "titleFont": "Liberation Sans", "titleColor": "#000000"},
 "text": {"font": "Liberation Sans"}
}
}
